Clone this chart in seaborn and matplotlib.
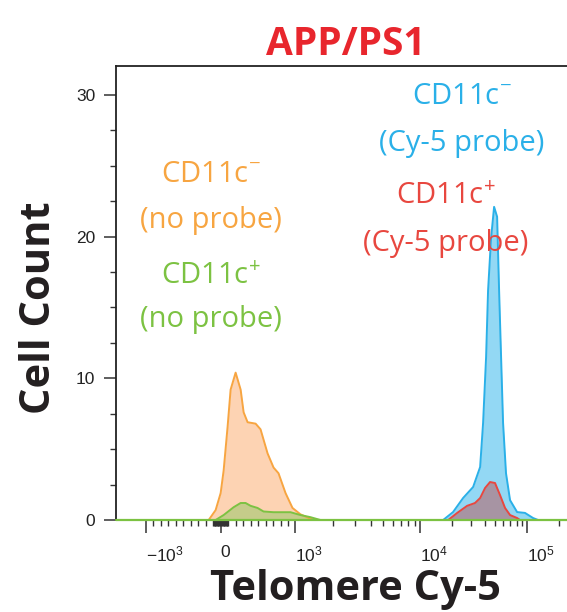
import numpy as np
import matplotlib
matplotlib.use("Agg")
import matplotlib.pyplot as plt
import seaborn as sns
from matplotlib.ticker import FixedLocator

# histogram outlines (Telomere Cy-5 intensity, cell count)
neg_noprobe_x = [-160, -67, 0, 40, 93, 133, 200, 267, 307, 360, 467, 533, 627, 707, 773, 867, 960, 1096, 1270, 1395]
neg_noprobe_y = [0, 0.7, 1.9, 3.5, 6.6, 9.2, 10.4, 9.2, 7.6, 6.9, 6.8, 6.4, 4.7, 3.7, 3.3, 1.9, 0.85, 0.4, 0.15, 0]

pos_noprobe_x = [-67, 40, 173, 267, 333, 400, 493, 573, 707, 933, 1096, 1318, 1585]
pos_noprobe_y = [0, 0.35, 0.9, 1.2, 1.2, 1.0, 0.85, 0.6, 0.55, 0.55, 0.35, 0.2, 0]

neg_probe_x = [1.64e4, 2.03e4, 2.52e4, 3.13e4, 3.64e4, 3.88e4, 4.14e4, 4.32e4, 4.61e4, 4.92e4,
               5.25e4, 5.48e4, 5.72e4, 5.97e4, 6.36e4, 6.94e4, 8.08e4, 9.58e4, 1.14e5, 1.27e5]
neg_probe_y = [0, 0.56, 1.55, 2.33, 3.74, 6.85, 11.5, 16.2, 19.9, 22.1,
               21.4, 16.2, 11.5, 6.85, 3.3, 1.4, 0.56, 0.5, 0.14, 0]

pos_probe_x = [1.83e4, 2.22e4, 2.75e4, 3.26e4, 3.64e4, 4.05e4, 4.51e4, 5.02e4, 5.59e4, 6.23e4, 6.94e4, 8.08e4, 8.6e4]
pos_probe_y = [0, 0.5, 1.0, 1.2, 1.55, 2.26, 2.68, 2.61, 1.76, 0.85, 0.35, 0.14, 0]

xtick_vals = [-1e3, 0, 1e3, 1e4, 1e5]
xtick_labels = [r'$\mathregular{-10^{3}}$', '0', r'$\mathregular{10^{3}}$',
                r'$\mathregular{10^{4}}$', r'$\mathregular{10^{5}}$']
ytick_vals = [0, 10, 20, 30]

ORANGE, ORANGE_FILL = '#f7a541', '#fdd3b3'
GREEN, GREEN_FILL = '#7cc242', '#c5cc8a'
BLUE, BLUE_FILL = '#2ab0e8', '#93d8f4'
RED, RED_FILL = '#e8473f', '#a794a3'

# biexponential-like display: linear around zero, log above 10^3
U_KNOTS = [-3, -1, 0, 1, 2, 3, 5]
P_KNOTS = [-55, 145, 220, 295, 420, 527, 741]


def to_u(x):
    x = np.asarray(x, dtype=float)
    a = np.abs(x)
    big = np.sign(x) * (1 + np.log10(np.maximum(a, 1000) / 1000))
    return np.where(a <= 1000, x / 1000, big)


def from_u(u):
    u = np.asarray(u, dtype=float)
    a = np.abs(u)
    big = np.sign(u) * 1000 * 10 ** (np.maximum(a, 1) - 1)
    return np.where(a <= 1, u * 1000, big)


def fwd(x):
    return np.interp(to_u(x), U_KNOTS, P_KNOTS)


def inv(p):
    return from_u(np.interp(p, P_KNOTS, U_KNOTS))


sns.set_style('ticks')
plt.rcParams['font.family'] = ['Open Sans', 'DejaVu Sans']

W, H = 567, 612
fig = plt.figure(figsize=(W / 100, H / 100), dpi=100)
ax = fig.add_axes([116 / W, 1 - 520 / H, 1 - 116 / W, (520 - 66) / H])
ax.set_xscale('function', functions=(fwd, inv))

# fills
ax.fill_between(neg_noprobe_x, neg_noprobe_y, color=ORANGE_FILL, lw=0, zorder=1)
ax.fill_between(pos_noprobe_x, pos_noprobe_y, color=GREEN_FILL, lw=0, zorder=1.2)
ax.fill_between(neg_probe_x, neg_probe_y, color=BLUE_FILL, lw=0, zorder=1)
ax.fill_between(pos_probe_x, pos_probe_y, color=RED_FILL, lw=0, zorder=1.2)

# outlines
sns.lineplot(x=neg_probe_x, y=neg_probe_y, sort=False, estimator=None, color=BLUE, lw=1.4, ax=ax, zorder=3)
sns.lineplot(x=pos_probe_x, y=pos_probe_y, sort=False, estimator=None, color=RED, lw=1.4, ax=ax, zorder=3.2)
sns.lineplot(x=neg_noprobe_x, y=neg_noprobe_y, sort=False, estimator=None, color=ORANGE, lw=1.4, ax=ax, zorder=3)
sns.lineplot(x=pos_noprobe_x, y=pos_noprobe_y, sort=False, estimator=None, color=GREEN, lw=1.4, ax=ax, zorder=3.2)
ax.axhline(0, color=GREEN, lw=1.6, zorder=4, clip_on=False)

ax.set_xlim(-1990, 2.37e5)
ax.set_ylim(0, 32.04)

# ticks
ax.set_xticks(xtick_vals)
ax.set_xticklabels(xtick_labels, fontfamily='Liberation Sans', fontsize=12.5, ha='left', color='#222222')
minor_x = ([-v for v in range(100, 1000, 100)] + [-v for v in range(10, 100, 10)] +
           list(range(10, 100, 10)) + list(range(100, 1000, 100)) +
           list(range(2000, 10000, 1000)) + list(range(20000, 100000, 10000)) + [200000])
ax.xaxis.set_minor_locator(FixedLocator(minor_x))
ax.set_yticks(ytick_vals)
ax.set_yticklabels([str(v) for v in ytick_vals], fontfamily='Liberation Sans', fontsize=12.5, color='#222222')
ax.yaxis.set_minor_locator(FixedLocator([v * 2.5 for v in range(1, 13) if v % 4]))

ax.tick_params(axis='both', which='major', length=9, width=1.1, color='#333333')
ax.tick_params(axis='both', which='minor', length=4, width=1.0, color='#333333')
ax.tick_params(axis='x', which='major', pad=9)
ax.tick_params(axis='y', which='major', pad=6)

sns.despine(ax=ax, top=False, right=True)
for s in ['left', 'top', 'bottom']:
    ax.spines[s].set_color('#222222')
    ax.spines[s].set_linewidth(1.3)
ax.set_xlabel('')
ax.set_ylabel('')


def fxy(px, py):
    return px / W, 1 - py / H


# title and axis labels
fig.text(*fxy(346, 55), 'APP/PS1', color='#e8262d', fontsize=28, fontweight='bold', ha='center', va='baseline')
fig.text(*fxy(355, 600), 'Telomere Cy-5', color='#231f20', fontsize=30, fontweight='bold', ha='center', va='baseline')
fig.text(*fxy(40, 308), 'Cell Count', color='#231f20', fontsize=30, fontweight='bold', rotation=90,
         ha='center', va='center')

# population labels
labels = [
    (211, 182, r'$\mathregular{CD11c^{-}}$', ORANGE),
    (211, 228, '(no probe)', ORANGE),
    (211, 284, r'$\mathregular{CD11c^{+}}$', GREEN),
    (211, 327, '(no probe)', GREEN),
    (462, 104, r'$\mathregular{CD11c^{-}}$', BLUE),
    (462, 151, '(Cy-5 probe)', BLUE),
    (446, 204, r'$\mathregular{CD11c^{+}}$', RED),
    (446, 251, '(Cy-5 probe)', RED),
]
for px, py, txt, col in labels:
    fig.text(*fxy(px, py), txt, color=col, fontsize=21, ha='center', va='baseline')

fig.savefig('out.png', dpi=100)
